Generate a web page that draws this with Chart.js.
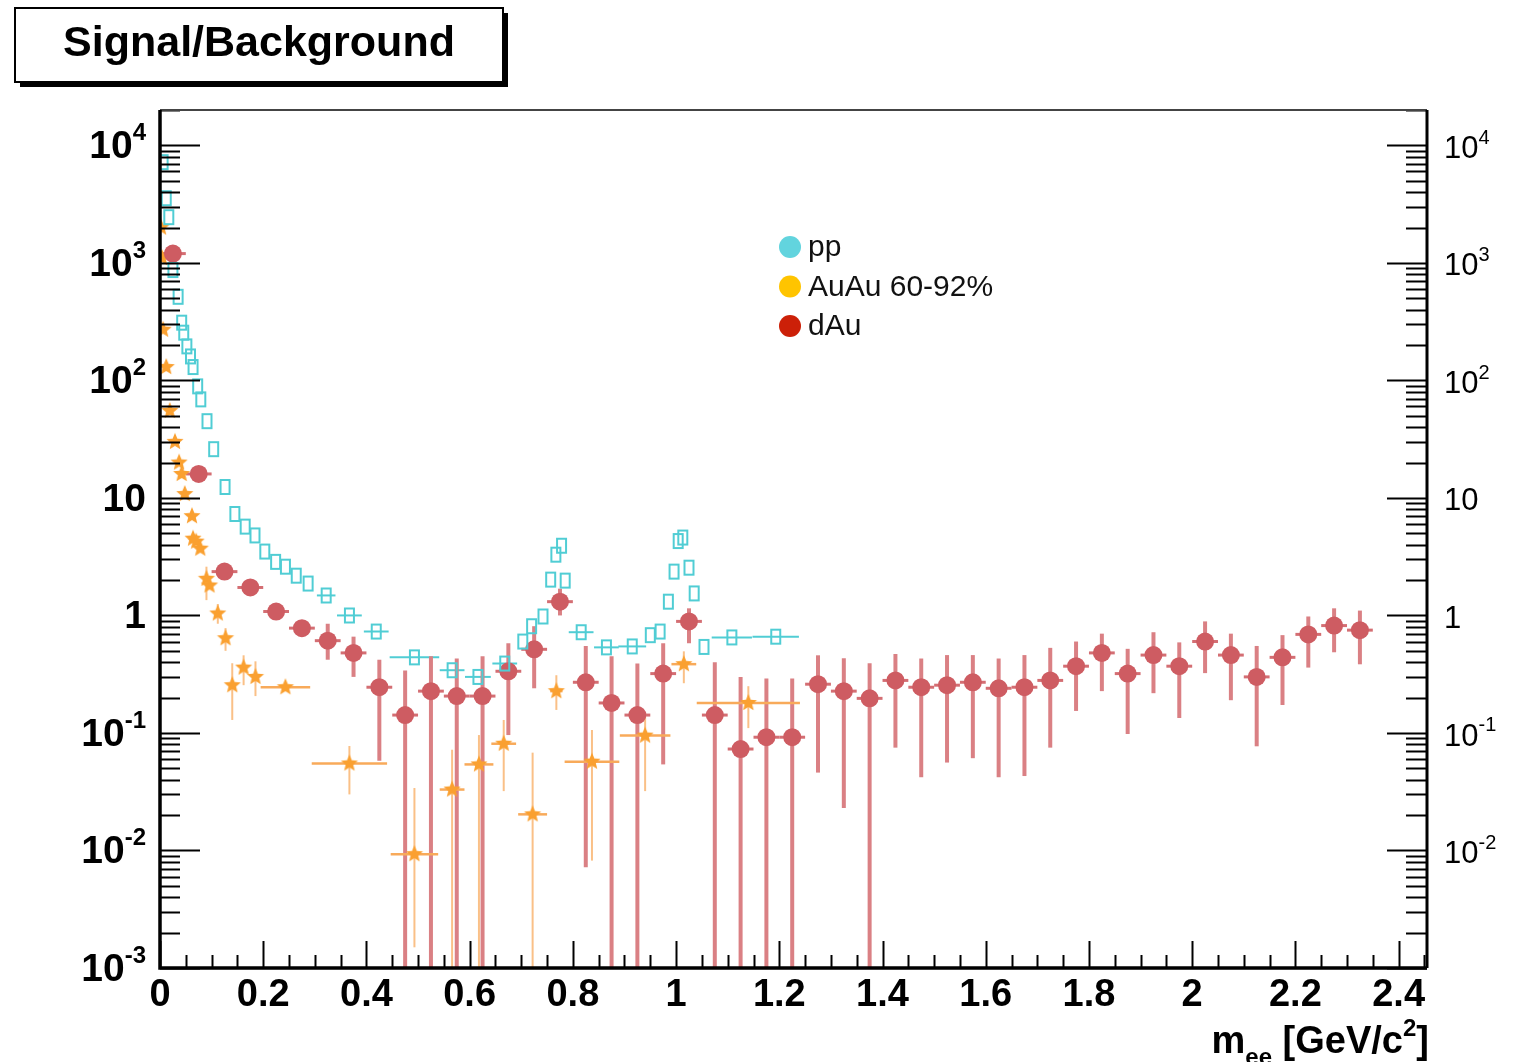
<!DOCTYPE html>
<html lang="en">
<head>
    <meta charset="UTF-8">
    <title>Signal/Background</title>
    <script src="https://cdn.jsdelivr.net/npm/chart.js"></script>
    <style>
        body { margin: 0; background: #fff; }
        canvas { display: block; }
    </style>
</head>
<body>
<canvas id="sbChart" width="1528" height="1062"></canvas>
<script>
    // dAu: 0.05 GeV bins
    const dAuX = [0.025, 0.075, 0.125, 0.175, 0.225, 0.275, 0.325, 0.375, 0.425, 0.475,
        0.525, 0.575, 0.625, 0.675, 0.725, 0.775, 0.825, 0.875, 0.925, 0.975,
        1.025, 1.075, 1.125, 1.175, 1.225, 1.275, 1.325, 1.375, 1.425, 1.475,
        1.525, 1.575, 1.625, 1.675, 1.725, 1.775, 1.825, 1.875, 1.925, 1.975,
        2.025, 2.075, 2.125, 2.175, 2.225, 2.275, 2.325];
    const dAuY = [1200, 16, 2.36, 1.73, 1.08, 0.78, 0.61, 0.48, 0.245, 0.142,
        0.227, 0.206, 0.206, 0.335, 0.515, 1.31, 0.27, 0.18, 0.142, 0.32,
        0.89, 0.142, 0.073, 0.092, 0.092, 0.26, 0.227, 0.197, 0.28, 0.245,
        0.255, 0.27, 0.24, 0.245, 0.28, 0.37, 0.48, 0.32, 0.46, 0.37,
        0.60, 0.46, 0.30, 0.44, 0.69, 0.82, 0.75];
    const dAuHi = [1300, 17, 2.5, 1.85, 1.2, 0.9, 0.85, 0.66, 0.42, 0.34,
        0.45, 0.43, 0.45, 0.58, 0.81, 1.69, 0.55, 0.45, 0.39, 0.58,
        1.15, 0.40, 0.30, 0.29, 0.29, 0.458, 0.432, 0.392, 0.47, 0.43,
        0.46, 0.46, 0.43, 0.46, 0.53, 0.60, 0.70, 0.52, 0.72, 0.59,
        0.89, 0.70, 0.55, 0.68, 0.98, 1.15, 1.10];
    // 0 means the bar runs to the bottom of the frame
    const dAuLo = [1100, 15, 2.2, 1.62, 0.95, 0.66, 0.42, 0.30, 0.058, 0,
        0, 0, 0, 0.096, 0.24, 1.0, 0.0072, 0, 0, 0.054,
        0.58, 0, 0, 0, 0, 0.046, 0.023, 0, 0.075, 0.042,
        0.056, 0.061, 0.042, 0.043, 0.075, 0.154, 0.227, 0.098, 0.218, 0.134,
        0.323, 0.19, 0.077, 0.173, 0.36, 0.486, 0.384];

    // pp
    const ppX = [0.006, 0.012, 0.017, 0.025, 0.035, 0.042, 0.046, 0.052, 0.059, 0.064,
        0.073, 0.079, 0.091, 0.104, 0.126, 0.145, 0.165, 0.184, 0.203, 0.224,
        0.243, 0.264, 0.287, 0.322, 0.367, 0.419, 0.493, 0.566, 0.616, 0.668,
        0.703, 0.720, 0.742, 0.757, 0.767, 0.778, 0.785, 0.816, 0.865, 0.915,
        0.950, 0.969, 0.985, 0.996, 1.004, 1.013, 1.025, 1.035, 1.054, 1.108, 1.193];
    const ppY = [7200, 3550, 2450, 870, 515, 310, 255, 195, 160, 130,
        89, 69, 45, 26, 12.4, 7.3, 5.7, 4.8, 3.5, 2.86,
        2.6, 2.18, 1.87, 1.48, 1.0, 0.73, 0.44, 0.342, 0.30, 0.39,
        0.60, 0.81, 0.98, 2.02, 3.29, 3.92, 1.98, 0.72, 0.535, 0.545,
        0.68, 0.73, 1.31, 2.36, 4.3, 4.6, 2.55, 1.54, 0.54, 0.65, 0.66];
    const ppHalfW = [0, 0, 0, 0, 0, 0, 0, 0, 0, 0,
        0, 0, 0, 0, 0, 0, 0, 0, 0, 0,
        0, 0, 0, 0.018, 0.024, 0.024, 0.048, 0.024, 0.025, 0.024,
        0, 0, 0, 0, 0, 0, 0, 0.024, 0.024, 0.027,
        0, 0, 0, 0, 0, 0, 0, 0, 0, 0.039, 0.045];

    // AuAu 60-92%
    const auX = [0.002, 0.004, 0.006, 0.012, 0.019, 0.029, 0.037, 0.042, 0.048, 0.062,
        0.064, 0.070, 0.078, 0.090, 0.096, 0.112, 0.127, 0.140, 0.162, 0.185,
        0.243, 0.367, 0.493, 0.566, 0.618, 0.666, 0.722, 0.768, 0.837, 0.940,
        1.015, 1.140];
    const auY = [2000, 1100, 270, 130, 55, 30, 20, 16, 10.8, 7.0,
        4.5, 4.25, 3.7, 2.05, 1.8, 1.04, 0.64, 0.255, 0.36, 0.30,
        0.245, 0.055, 0.0093, 0.033, 0.054, 0.081, 0.0203, 0.227, 0.057, 0.095,
        0.385, 0.18];
    const auHi = [null, null, null, null, null, null, null, null, null, null,
        null, null, null, 2.6, null, 1.25, 0.78, 0.392, 0.458, 0.407,
        null, 0.0775, 0.034, 0.072, 0.096, 0.129, 0.068, 0.31, 0.106, 0.148,
        0.495, 0.25];
    const auLo = [null, null, null, null, null, null, null, null, null, null,
        null, null, null, 1.35, null, 0.85, 0.5, 0.129, 0.255, 0.206,
        null, 0.03, 0.0015, 0, 0, 0.032, 0, 0.157, 0.0082, 0.032,
        0.265, 0.11];
    const auHalfW = [0, 0, 0, 0, 0, 0, 0, 0, 0, 0,
        0, 0, 0, 0, 0, 0, 0, 0, 0, 0,
        0.048, 0.073, 0.046, 0.024, 0.028, 0.024, 0.028, 0.012, 0.053, 0.049,
        0.024, 0.1];

    const xTickValues = [0, 0.2, 0.4, 0.6, 0.8, 1, 1.2, 1.4, 1.6, 1.8, 2, 2.2, 2.4];
    const xTickLabels = ['0', '0.2', '0.4', '0.6', '0.8', '1', '1.2', '1.4', '1.6', '1.8', '2', '2.2', '2.4'];
    const leftExps = [-3, -2, -1, 0, 1, 2, 3, 4];
    const rightExps = [-2, -1, 0, 1, 2, 3, 4];

    const legendItems = [
        { label: 'pp', color: 'rgb(98,212,222)' },
        { label: 'AuAu 60-92%', color: 'rgb(255,196,0)' },
        { label: 'dAu', color: 'rgb(204,32,8)' }
    ];

    // marker images
    function makeRect() {
        const c = document.createElement('canvas');
        c.width = 13; c.height = 18;
        const g = c.getContext('2d');
        g.strokeStyle = 'rgb(80,205,212)';
        g.lineWidth = 2;
        g.strokeRect(2, 2, 9, 14);
        return c;
    }
    function makeStar() {
        const c = document.createElement('canvas');
        c.width = 20; c.height = 20;
        const g = c.getContext('2d');
        g.fillStyle = 'rgb(250,160,48)';
        g.beginPath();
        for (let i = 0; i < 10; i++) {
            const r = i % 2 === 0 ? 9 : 4;
            const a = -Math.PI / 2 + i * Math.PI / 5;
            const px = 10 + r * Math.cos(a), py = 10 + r * Math.sin(a);
            if (i === 0) g.moveTo(px, py); else g.lineTo(px, py);
        }
        g.closePath();
        g.fill();
        return c;
    }

    const toPoints = (xs, ys) => xs.map((x, i) => ({ x: x, y: ys[i] }));

    // error bars through the chart scales
    const errorBars = {
        id: 'errorBars',
        beforeDatasetsDraw(chart) {
            const { ctx, chartArea, scales } = chart;
            const xs = scales.x, ys = scales.y;
            ctx.save();
            ctx.beginPath();
            ctx.rect(chartArea.left, chartArea.top, chartArea.right - chartArea.left, chartArea.bottom - chartArea.top);
            ctx.clip();
            chart.data.datasets.forEach(ds => {
                const e = ds.err;
                ctx.strokeStyle = e.color;
                ds.data.forEach((p, i) => {
                    const px = xs.getPixelForValue(p.x);
                    const py = ys.getPixelForValue(p.y);
                    if (e.hi && e.hi[i] != null) {
                        const top = ys.getPixelForValue(e.hi[i]);
                        const bot = e.lo[i] > 0 ? ys.getPixelForValue(e.lo[i]) : chartArea.bottom;
                        ctx.lineWidth = e.vWidth;
                        ctx.beginPath();
                        ctx.moveTo(px, top);
                        ctx.lineTo(px, bot);
                        ctx.stroke();
                    }
                    if (e.hw && e.hw[i] > 0) {
                        ctx.strokeStyle = e.hColor || e.color;
                        ctx.lineWidth = e.hLineWidth;
                        ctx.beginPath();
                        ctx.moveTo(xs.getPixelForValue(p.x - e.hw[i]), py);
                        ctx.lineTo(xs.getPixelForValue(p.x + e.hw[i]), py);
                        ctx.stroke();
                        ctx.strokeStyle = e.color;
                    }
                });
            });
            ctx.restore();
        }
    };

    function drawPow(ctx, exp, x, y, align, bigFont, supFont, raise) {
        let base = '10', sup = '';
        if (exp === 0) base = '1';
        else if (exp !== 1) sup = String(exp);
        ctx.font = bigFont;
        const wb = ctx.measureText(base).width;
        ctx.font = supFont;
        const ws = sup ? ctx.measureText(sup).width : 0;
        let start = align === 'right' ? x - wb - ws : x;
        ctx.textAlign = 'left';
        ctx.textBaseline = 'middle';
        ctx.font = bigFont;
        ctx.fillText(base, start, y);
        if (sup) {
            ctx.font = supFont;
            ctx.fillText(sup, start + wb, y - raise);
        }
    }

    const frame = {
        id: 'frame',
        afterDraw(chart) {
            const { ctx, chartArea, scales } = chart;
            const xs = scales.x, ys = scales.y;
            const L = chartArea.left, R = chartArea.right, T = chartArea.top, B = chartArea.bottom;
            ctx.save();
            ctx.fillStyle = '#000';
            ctx.strokeStyle = '#000';

            // y ticks, left and right, inside the frame
            ctx.lineWidth = 2;
            for (let d = -3; d <= 4; d++) {
                for (let m = 1; m <= 9; m++) {
                    const v = m * Math.pow(10, d);
                    if (v < ys.min || v > ys.max) continue;
                    const py = Math.round(ys.getPixelForValue(v)) + 0.5;
                    const lenL = m === 1 ? 40 : 20;
                    const lenR = m === 1 ? 40 : 21;
                    ctx.beginPath();
                    ctx.moveTo(L, py); ctx.lineTo(L + lenL, py);
                    ctx.moveTo(R, py); ctx.lineTo(R - lenR, py);
                    ctx.stroke();
                }
            }
            // x ticks
            for (let k = 0; k <= 49; k++) {
                const v = k * 0.05;
                if (v > xs.max) continue;
                const px = Math.round(xs.getPixelForValue(v)) + 0.5;
                const len = k % 4 === 0 ? 27 : 13;
                ctx.beginPath();
                ctx.moveTo(px, B); ctx.lineTo(px, B - len);
                ctx.stroke();
            }

            // frame lines
            ctx.lineWidth = 2;
            ctx.strokeStyle = '#444';
            ctx.beginPath();
            ctx.moveTo(L, T); ctx.lineTo(R, T);
            ctx.stroke();
            ctx.strokeStyle = '#000';
            ctx.lineWidth = 3;
            ctx.beginPath();
            ctx.moveTo(R, T); ctx.lineTo(R, B);
            ctx.stroke();
            ctx.lineWidth = 3.5;
            ctx.beginPath();
            ctx.moveTo(L, T); ctx.lineTo(L, B); ctx.lineTo(R, B);
            ctx.stroke();

            // left labels
            leftExps.forEach(e => {
                const py = ys.getPixelForValue(Math.pow(10, e));
                drawPow(ctx, e, 146, py + 2, 'right', 'bold 39px "Liberation Sans", Arial, sans-serif',
                    'bold 24px "Liberation Sans", Arial, sans-serif', 14);
            });
            // right labels
            rightExps.forEach(e => {
                const py = ys.getPixelForValue(Math.pow(10, e));
                drawPow(ctx, e, 1444, py + 4, 'left', '31px "Liberation Sans", Arial, sans-serif',
                    '20px "Liberation Sans", Arial, sans-serif', 11);
            });
            // bottom labels
            ctx.font = 'bold 38px "Liberation Sans", Arial, sans-serif';
            ctx.textAlign = 'center';
            ctx.textBaseline = 'middle';
            xTickValues.forEach((v, i) => {
                ctx.fillText(xTickLabels[i], xs.getPixelForValue(v), 996);
            });

            // x title: m_ee [GeV/c^2]
            const big = 'bold 38px "Liberation Sans", Arial, sans-serif';
            const small = 'bold 24px "Liberation Sans", Arial, sans-serif';
            const parts = [
                { t: 'm', f: big, dy: 0 },
                { t: 'ee', f: small, dy: 12 },
                { t: ' [GeV/c', f: big, dy: 0 },
                { t: '2', f: small, dy: -17 },
                { t: ']', f: big, dy: 0 }
            ];
            let total = 0;
            parts.forEach(p => { ctx.font = p.f; p.w = ctx.measureText(p.t).width; total += p.w; });
            let cx = R + 2 - total;
            ctx.textAlign = 'left';
            ctx.textBaseline = 'alphabetic';
            parts.forEach(p => {
                ctx.font = p.f;
                ctx.fillText(p.t, cx, 1053 + p.dy);
                cx += p.w;
            });

            // title box with shadow
            ctx.fillStyle = '#000';
            ctx.fillRect(20, 13, 488, 74);
            ctx.fillStyle = '#fff';
            ctx.fillRect(15, 8, 488, 74);
            ctx.strokeStyle = '#000';
            ctx.lineWidth = 2;
            ctx.strokeRect(15, 8, 488, 74);
            ctx.fillStyle = '#000';
            ctx.font = 'bold 43px "Liberation Sans", Arial, sans-serif';
            ctx.textAlign = 'center';
            ctx.textBaseline = 'middle';
            ctx.fillText('Signal/Background', 259, 44);

            // legend
            ctx.font = '30px "Liberation Sans", Arial, sans-serif';
            ctx.textAlign = 'left';
            legendItems.forEach((it, i) => {
                const ly = 247 + i * 39.5;
                ctx.fillStyle = it.color;
                ctx.beginPath();
                ctx.arc(790, ly, 11, 0, Math.PI * 2);
                ctx.fill();
                ctx.fillStyle = '#111';
                ctx.fillText(it.label, 808, ly + 1);
            });
            ctx.restore();
        }
    };

    const ctx = document.getElementById('sbChart').getContext('2d');
    new Chart(ctx, {
        type: 'scatter',
        data: {
            datasets: [
                {
                    label: 'pp',
                    data: toPoints(ppX, ppY),
                    pointStyle: makeRect(),
                    err: { color: 'rgb(80,205,212)', hw: ppHalfW, hLineWidth: 2, vWidth: 2 }
                },
                {
                    label: 'dAu',
                    data: toPoints(dAuX, dAuY),
                    pointStyle: 'circle',
                    pointRadius: 9,
                    backgroundColor: 'rgb(206,92,98)',
                    borderWidth: 0,
                    err: {
                        color: 'rgb(218,128,132)', hi: dAuHi, lo: dAuLo, vWidth: 4,
                        hw: dAuX.map(() => 0.025), hLineWidth: 3, hColor: 'rgb(212,110,115)'
                    }
                },
                {
                    label: 'AuAu 60-92%',
                    data: toPoints(auX, auY),
                    pointStyle: makeStar(),
                    err: { color: 'rgb(250,192,135)', hi: auHi, lo: auLo, vWidth: 2, hw: auHalfW, hLineWidth: 2.5, hColor: 'rgb(248,170,90)' }
                }
            ]
        },
        options: {
            responsive: false,
            animation: false,
            layout: { padding: { left: 160, top: 110, right: 101, bottom: 94 } },
            plugins: { legend: { display: false }, tooltip: { enabled: false } },
            scales: {
                x: { type: 'linear', min: 0, max: 2.455, display: false },
                y: { type: 'logarithmic', min: 0.001, max: 20000, display: false }
            }
        },
        plugins: [errorBars, frame]
    });
</script>
</body>
</html>
